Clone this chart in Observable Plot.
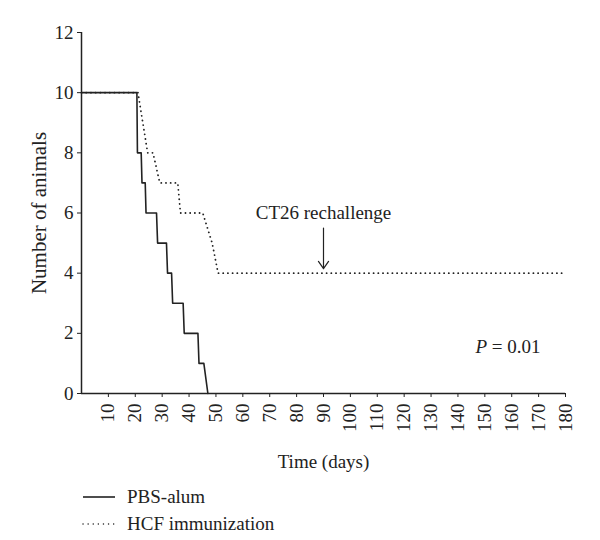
<!DOCTYPE html>
<html>
<head>
<meta charset="utf-8">
<script src="https://cdn.jsdelivr.net/npm/d3@7"></script>
<script src="https://cdn.jsdelivr.net/npm/@observablehq/plot@0.6"></script>
<style>
  body { margin: 0; background: #fff; font-family: "Liberation Serif", "DejaVu Serif", serif; }
  #chart svg { display: block; }
  .legend { margin: 5px 0 0 82px; font-size: 19px; color: #222; }
  .legend .row { display: flex; align-items: center; height: 27px; }
  .legend svg { margin-right: 12px; }
</style>
</head>
<body>
<div id="chart"></div>
<div class="legend" id="legend"></div>
<script>
// PBS-alum survival (days, number of animals)
const pbsDays  = [0, 20.6, 20.8, 22.2, 22.5, 23.7, 24.0, 27.9, 28.3, 31.6, 32.0, 33.5, 33.9, 37.8, 38.2, 43.3, 43.7, 45.5, 47.0];
const pbsCount = [10, 10,   8,    8,    7,    7,    6,    6,    5,    5,    4,    4,    3,    3,    2,    2,    1,    1,    0];
// HCF immunization survival
const hcfDays  = [0, 21.0, 24.6, 26.6, 29.1, 35.8, 36.8, 45.1, 48.6, 50.8, 180];
const hcfCount = [10, 10,   8,    8,    7,    7,    6,    6,    5,    4,    4];
// axis ticks
const xTicks = [10, 20, 30, 40, 50, 60, 70, 80, 90, 100, 110, 120, 130, 140, 150, 160, 170, 180];
const yTicks = [0, 2, 4, 6, 8, 10, 12];
// annotations
const rechallenge = [{day: 90, label: "CT26 rechallenge", textY: 5.8, fromY: 5.5, toY: 4.15}];
const pValue = [{day: 146.5, y: 1.55, label: "P = 0.01"}];
const seriesNames = ["PBS-alum", "HCF immunization"];

const pbs = pbsDays.map((d, i) => ({day: d, n: pbsCount[i]}));
const hcf = hcfDays.map((d, i) => ({day: d, n: hcfCount[i]}));

const ink = "#222";
const fs = 19;
const chart = Plot.plot({
  width: 600,
  height: 478,
  marginLeft: 81,
  marginRight: 35,
  marginTop: 32,
  marginBottom: 85,
  style: {fontFamily: "'Liberation Serif', serif", fontSize: fs + "px", color: ink, background: "#fff"},
  x: {domain: [0, 180]},
  y: {domain: [0, 12]},
  marks: [
    Plot.axisX({ticks: xTicks, tickRotate: -90, tickSize: 4, tickPadding: 6, label: "Time (days)", labelAnchor: "center", labelArrow: "none", labelOffset: 74, fontSize: fs}),
    Plot.axisY({ticks: yTicks, tickSize: 4, tickPadding: 4, label: "Number of animals", labelAnchor: "center", labelArrow: "none", labelOffset: 50, fontSize: fs}),
    Plot.ruleY([0], {stroke: ink, strokeWidth: 1.5}),
    Plot.ruleX([0], {stroke: ink, strokeWidth: 1.5}),
    Plot.line(hcf, {x: "day", y: "n", stroke: ink, strokeWidth: 1.8, strokeLinecap: "round", strokeDasharray: "0.1 4.6"}),
    Plot.line(pbs, {x: "day", y: "n", stroke: ink, strokeWidth: 1.6}),
    Plot.text(rechallenge, {x: "day", y: "textY", text: "label", lineAnchor: "bottom", fontSize: fs, fill: ink}),
    Plot.arrow(rechallenge, {x1: "day", x2: "day", y1: "fromY", y2: "toY", stroke: ink, strokeWidth: 1.2, headLength: 11, headAngle: 70}),
    Plot.text(pValue, {x: "day", y: "y", text: "label", textAnchor: "start", fontSize: fs, fill: ink, className: "pval"})
  ]
});
document.getElementById("chart").appendChild(chart);

// larger y-axis title, as in the reference
d3.select(chart).selectAll('g[aria-label="y-axis label"]').attr("font-size", 21).selectAll("text").attr("font-size", 21);

// italic P
d3.select(chart).selectAll(".pval text").each(function() {
  const t = d3.select(this);
  const s = t.text();
  t.text(null);
  t.append("tspan").attr("font-style", "italic").text(s.slice(0, 1));
  t.append("tspan").text(s.slice(1));
});

// legend
const legend = d3.select("#legend");
seriesNames.forEach((name, i) => {
  const row = legend.append("div").attr("class", "row");
  const sw = row.append("svg").attr("width", 33).attr("height", 6);
  sw.append("line").attr("x1", 1).attr("x2", 33).attr("y1", 3).attr("y2", 3)
    .attr("stroke", ink).attr("stroke-width", i === 0 ? 1.6 : 1.4)
    .attr("stroke-linecap", i === 0 ? "butt" : "round")
    .attr("stroke-dasharray", i === 0 ? null : "0.1 5");
  row.append("span").text(name);
});
</script>
</body>
</html>
